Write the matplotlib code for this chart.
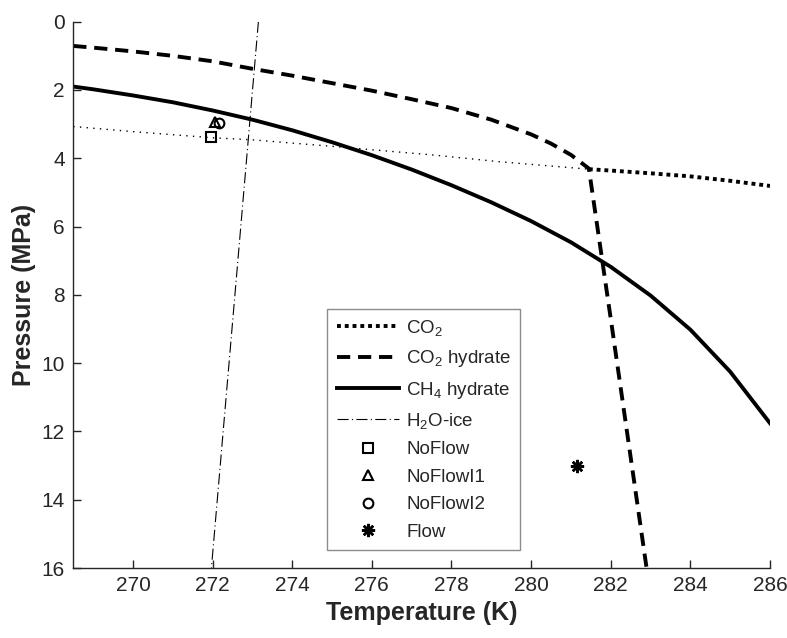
import numpy as np
import matplotlib
matplotlib.use("Agg")
import matplotlib.pyplot as plt

plt.rcParams['font.family'] = ['Liberation Sans', 'DejaVu Sans']
plt.rcParams['mathtext.fontset'] = 'custom'
plt.rcParams['mathtext.rm'] = 'Liberation Sans'
plt.rcParams['mathtext.it'] = 'Liberation Sans:italic'
plt.rcParams['mathtext.bf'] = 'Liberation Sans:bold'

# CO2 saturation line (below and above the quadruple point)
co2_T_low = [268.5, 270.0, 272.0, 273.0, 275.0, 277.5, 279.2, 281.45]
co2_P_low = [3.07, 3.22, 3.40, 3.46, 3.65, 3.90, 4.10, 4.32]
co2_T_high = [281.45, 282.0, 283.0, 284.0, 285.0, 286.0]
co2_P_high = [4.32, 4.36, 4.44, 4.53, 4.66, 4.81]

# CO2 hydrate stability boundary
co2h_T = [268.5, 269.0, 270.0, 271.0, 272.0, 273.0, 274.0, 275.0, 276.0, 277.0,
          278.0, 279.0, 280.0, 280.5, 281.0, 281.45, 282.0, 282.9]
co2h_P = [0.71, 0.76, 0.87, 1.00, 1.16, 1.38, 1.58, 1.80, 2.02, 2.27,
          2.53, 2.87, 3.30, 3.57, 3.90, 4.30, 8.70, 16.0]

# CH4 hydrate stability boundary
ch4h_T = [268.5, 269.0, 270.0, 271.0, 272.0, 273.0, 274.0, 275.0, 276.0, 277.0,
          278.0, 279.0, 280.0, 281.0, 282.0, 283.0, 284.0, 285.0, 286.0]
ch4h_P = [1.90, 1.98, 2.16, 2.36, 2.60, 2.87, 3.18, 3.53, 3.91, 4.33,
          4.79, 5.29, 5.84, 6.46, 7.18, 8.02, 9.02, 10.25, 11.76]

# ice melting line
ice_T = [273.15, 271.97]
ice_P = [0.0, 16.0]

# experiments
noflow = (271.95, 3.37)
noflow1 = (272.06, 2.93)
noflow2 = (272.17, 2.97)
flow = (281.15, 13.0)

fig = plt.figure(figsize=(7.87, 6.38), dpi=100)
ax = fig.add_axes([0.0931, 0.1097, 0.8853, 0.8563])

ax.plot(co2_T_low, co2_P_low, color='k', lw=1.0, linestyle=(0, (1, 3.8)))
ax.plot(co2_T_high, co2_P_high, color='k', lw=2.8, linestyle=(0, (1, 1)),
        dash_capstyle='butt', label='CO$_2$')
ax.plot(co2h_T, co2h_P, color='k', lw=2.8, linestyle=(0, (3.4, 2.0)),
        dash_capstyle='butt', label='CO$_2$ hydrate')
ax.plot(ch4h_T, ch4h_P, color='k', lw=2.8, label='CH$_4$ hydrate')
ax.plot(ice_T, ice_P, color='k', lw=0.8, linestyle=(0, (10, 3, 1, 3)),
        label='H$_2$O-ice')

ax.plot(*noflow, 's', ms=7, mfc='none', mec='k', mew=1.5, ls='none', label='NoFlow')
ax.plot(*noflow1, '^', ms=7.5, mfc='none', mec='k', mew=1.5, ls='none', label='NoFlowI1')
ax.plot(*noflow2, 'o', ms=7, mfc='none', mec='k', mew=1.5, ls='none', label='NoFlowI2')
ax.plot(*flow, marker=(8, 2, 0), ms=9.5, mec='k', mew=1.8, ls='none', label='Flow')

ax.set_xlim(268.5, 286)
ax.set_ylim(16, 0)
ax.set_xticks(np.arange(270, 287, 2))
ax.set_yticks(np.arange(0, 17, 2))

for side in ['top', 'right']:
    ax.spines[side].set_visible(False)
for side in ['left', 'bottom']:
    ax.spines[side].set_color('#262626')
    ax.spines[side].set_linewidth(1.0)
ax.tick_params(direction='in', length=6, width=1.0, colors='#262626',
               labelsize=15, pad=6)

ax.set_xlabel('Temperature (K)', fontsize=18, fontweight='bold',
              color='#262626', labelpad=4)
ax.set_ylabel('Pressure (MPa)', fontsize=18, fontweight='bold',
              color='#262626', labelpad=4)

leg = ax.legend(loc='lower left', bbox_to_anchor=(0.3646, 0.033),
                borderaxespad=0, fontsize=13.5, handlelength=3.3,
                handletextpad=0.4, labelspacing=0.55, fancybox=False,
                framealpha=1, edgecolor='#8c8c8c', borderpad=0.5)
leg.get_frame().set_linewidth(1.0)
for t in leg.get_texts():
    t.set_color('#262626')

fig.savefig('out.png', dpi=100)
